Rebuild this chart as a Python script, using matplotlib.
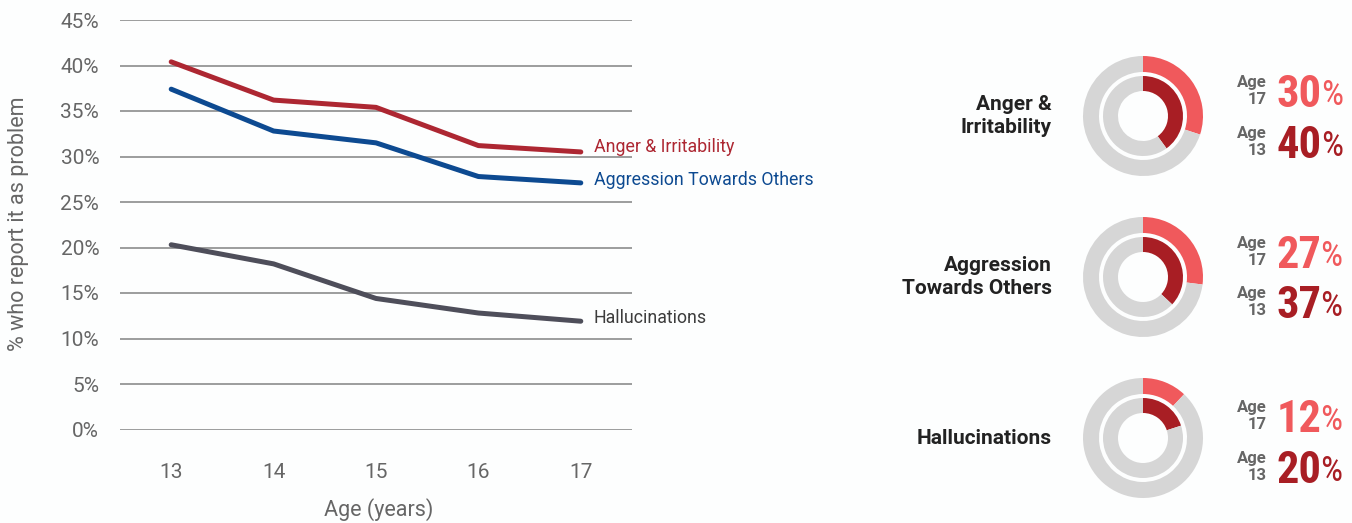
import matplotlib
matplotlib.use("Agg")
import matplotlib.pyplot as plt

# ---------------- data ----------------
ages = [13, 14, 15, 16, 17]
anger = [40.4, 36.2, 35.4, 31.2, 30.5]
aggression = [37.4, 32.8, 31.5, 27.8, 27.1]
hallucinations = [20.3, 18.2, 14.4, 12.8, 11.9]
series_names = ["Anger & Irritability", "Aggression Towards Others", "Hallucinations"]
y_ticks = [0, 5, 10, 15, 20, 25, 30, 35, 40, 45]

donut_labels = ["Anger &\nIrritability", "Aggression\nTowards Others", "Hallucinations"]
age17_pct = [30, 27, 12]
age13_pct = [40, 37, 20]

# ---------------- style ----------------
W, H = 1352, 523
plt.rcParams['font.family'] = ['Roboto', 'DejaVu Sans']
fig = plt.figure(figsize=(W / 100, H / 100), dpi=100)
fig.patch.set_facecolor('#fdfefe')

def fx(x):
    return x / W

def fy(y):
    return 1 - y / H

line_colors = ['#ad2732', '#0d4a91', '#4e4e5a']
text_colors = ['#ad2732', '#0d4a91', '#3c3c3c']
light_red = '#f0595c'
dark_red = '#a81e24'
ring_grey = '#d6d6d6'
tick_grey = '#666666'

# ---------------- line chart ----------------
ax = fig.add_axes([fx(120), fy(429.5), (632 - 120) / W, (429.5 - 20) / H])
ax.set_facecolor('none')
ax.set_xlim(12.5, 17.5)
ax.set_ylim(0, 45)
for s in ax.spines.values():
    s.set_visible(False)
ax.set_yticks(y_ticks)
ax.set_yticklabels([f"{t}%" for t in y_ticks])
ax.set_xticks(ages)
ax.set_xticklabels([str(a) for a in ages])
ax.grid(axis='y', color='#8c8c8c', linewidth=1.2)
ax.grid(axis='x', visible=False)
ax.set_axisbelow(True)
ax.tick_params(axis='y', length=0, pad=15, labelsize=15, labelcolor=tick_grey)
ax.tick_params(axis='x', length=0, pad=24, labelsize=15, labelcolor=tick_grey)

all_series = [anger, aggression, hallucinations]
label_dy = [3.3, 2.0, 2.5]
for vals, name, lc, tc, dy in zip(all_series, series_names, line_colors, text_colors, label_dy):
    ax.plot(ages, vals, color=lc, linewidth=3.6, solid_capstyle='round',
            solid_joinstyle='round', clip_on=False, zorder=3)
    ax.annotate(name, xy=(ages[-1], vals[-1]), xytext=(9.5, dy),
                textcoords='offset points', ha='left', va='center',
                color=tc, fontsize=12.8)

fig.text(fx(19), fy(224), "% who report it as problem", rotation=90,
         ha='center', va='center', fontsize=15.5, color=tick_grey)
fig.text(fx(379), fy(510), "Age (years)", ha='center', va='center',
         fontsize=15.5, color=tick_grey)

# ---------------- donuts ----------------
centers_y = [116, 277, 438]
cx = 1143
num_offsets = [(-9, 42), (-9, 41), (-6, 45)]
big_font = ['Roboto Condensed', 'Open Sans Condensed', 'Liberation Sans Narrow',
            'Roboto', 'DejaVu Sans']
for i, cy in enumerate(centers_y):
    half = 70
    dax = fig.add_axes([fx(cx - half), fy(cy + half), 2 * half / W, 2 * half / H])
    v17 = age17_pct[i]
    v13 = age13_pct[i]
    dax.pie([v17, 100 - v17], radius=60, startangle=90, counterclock=False,
            colors=[light_red, ring_grey],
            wedgeprops=dict(width=16, edgecolor='none', linewidth=0))
    dax.pie([v13, 100 - v13], radius=40, startangle=90, counterclock=False,
            colors=[dark_red, ring_grey],
            wedgeprops=dict(width=15, edgecolor='none', linewidth=0))
    dax.set_xlim(-half, half)
    dax.set_ylim(-half, half)
    dax.set_aspect('equal')
    dax.axis('off')

    # category label
    fig.text(fx(1052), fy(cy), donut_labels[i], ha='right', va='center',
             fontsize=15, fontweight='bold', color='#222222', linespacing=1.3)

    # age labels and numbers
    for k, (age_lbl, val, col) in enumerate([("17", v17, light_red), ("13", v13, dark_red)]):
        base = cy + num_offsets[i][k]
        fig.text(fx(1267), fy(base - 16), f"Age\n{age_lbl}", ha='right', va='center',
                 fontsize=12, fontweight='bold', color=tick_grey, linespacing=1.1)
        t = fig.text(fx(1277), fy(base), f"{val}", ha='left', va='baseline',
                     fontsize=32, fontweight='bold', color=col, family=big_font)
        plt.annotate("%", xy=(1, 0), xycoords=t, xytext=(-1, 2.8),
                     textcoords='offset points', ha='left', va='bottom',
                     fontsize=25, color=col, family=big_font,
                     annotation_clip=False)

fig.savefig("out.png", dpi=100, facecolor=fig.get_facecolor())
